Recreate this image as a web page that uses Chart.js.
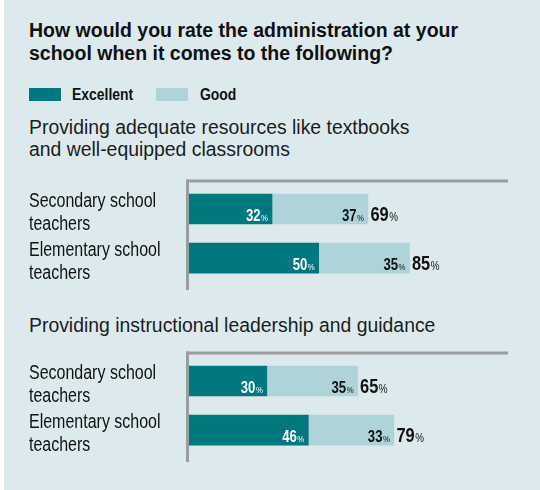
<!DOCTYPE html>
<html>
<head>
<meta charset="utf-8">
<script src="https://cdn.jsdelivr.net/npm/chart.js@4.4.0/dist/chart.umd.min.js"></script>
<style>
  body { margin: 0; width: 540px; height: 490px; position: relative; overflow: hidden; background: #fff;
         font-family: "Liberation Sans", Arial, sans-serif; color: #111; }
  .bg { position: absolute; left: 4px; top: 0; width: 536px; height: 490px; background: #dceaed; }
  .title { position: absolute; left: 29px; top: 19px; font-weight: 700; font-size: 19.5px; line-height: 23px; white-space: nowrap; }
  .legend { position: absolute; top: 87px; left: 0; height: 16px; }
  .swatch { position: absolute; top: 1px; width: 32px; height: 13px; }
  .legtext { position: absolute; top: 0; font-weight: 700; font-size: 17px; line-height: 16px; white-space: nowrap;
             transform: scaleX(0.82); transform-origin: 0 0; }
  .heading { position: absolute; left: 29px; font-size: 19.4px; line-height: 22px; color: #1c1c1c; white-space: nowrap; }
  canvas { position: absolute; left: 0; }
</style>
</head>
<body>
<div class="bg"></div>
<div class="title">How would you rate the administration at your<br>school when it comes to the following?</div>
<div class="legend" id="legend"></div>
<div class="heading" style="top:116px">Providing adequate resources like textbooks<br>and well-equipped classrooms</div>
<canvas id="resources" width="540" height="140" style="top:160px"></canvas>
<div class="heading" style="top:314px">Providing instructional leadership and guidance</div>
<canvas id="leadership" width="540" height="140" style="top:332px"></canvas>
<script>
// Daten
const categories = [["Secondary school", "teachers"], ["Elementary school", "teachers"]];
const seriesNames = ["Excellent", "Good"];
const seriesColors = ["#00787f", "#aed3d8"];
const resourcesExcellent = [32, 50];
const resourcesGood = [37, 35];
const leadershipExcellent = [30, 46];
const leadershipGood = [35, 33];
const axisMax = 123;
const rowMin = -0.54, rowMax = 1.65;

const FONT = "'Liberation Sans', Arial, sans-serif";
const SQUEEZE = 0.82; // kein Narrow-Font da, also schmal ziehen

// Legende
function renderLegend() {
    const legend = document.getElementById("legend");
    const swatchX = [29, 156];
    const textX = [72, 200];
    seriesNames.forEach((name, i) => {
        const sw = document.createElement("div");
        sw.className = "swatch";
        sw.style.left = swatchX[i] + "px";
        sw.style.background = seriesColors[i];
        legend.appendChild(sw);
        const t = document.createElement("div");
        t.className = "legtext";
        t.style.left = textX[i] + "px";
        t.textContent = name;
        legend.appendChild(t);
    });
}

// schmaler Text auf dem Canvas, gibt Breite zurück
function narrowText(ctx, text, x, y, font, align, color) {
    ctx.font = font;
    const w = ctx.measureText(text).width * SQUEEZE;
    const left = align === "right" ? x - w : x;
    ctx.save();
    ctx.fillStyle = color;
    ctx.textAlign = "left";
    ctx.textBaseline = "alphabetic";
    ctx.translate(left, y);
    ctx.scale(SQUEEZE, 1);
    ctx.fillText(text, 0, 0);
    ctx.restore();
    return w;
}

// graue Achsenlinien oben und links
const framePlugin = {
    id: "frame",
    beforeDatasetsDraw(chart) {
        const { ctx, chartArea: a } = chart;
        ctx.save();
        ctx.fillStyle = "#9a9c9e";
        ctx.fillRect(a.left - 3, a.top - 3, 3, a.bottom - a.top + 3);
        ctx.fillRect(a.left - 3, a.top - 3, a.right - a.left + 3, 3);
        ctx.restore();
    }
};

// Kategorien links, Werte in den Balken, Summe dahinter
const labelPlugin = {
    id: "barLabels",
    afterDatasetsDraw(chart) {
        const ctx = chart.ctx;
        const sets = chart.data.datasets;
        const yScale = chart.scales.y;

        categories.forEach((lines, i) => {
            const yp = yScale.getPixelForValue(i);
            lines.forEach((line, k) => {
                narrowText(ctx, line, 29, yp - 2 + k * 23, "19.5px " + FONT, "left", "#111");
            });
        });

        sets.forEach((ds, di) => {
            chart.getDatasetMeta(di).data.forEach((bar, i) => {
                const y = bar.y + 12;
                const col = di === 0 ? "#fff" : "#111";
                const pw = narrowText(ctx, "%", bar.x - 4, y, "9.5px " + FONT, "right", col);
                narrowText(ctx, String(ds.data[i].x), bar.x - 4 - pw - 0.5, y, "bold 16px " + FONT, "right", col);

                if (di === sets.length - 1) {
                    const total = sets.reduce((s, d) => s + d.data[i].x, 0);
                    const tw = narrowText(ctx, String(total), bar.x + 2.5, y, "bold 20px " + FONT, "left", "#111");
                    narrowText(ctx, "%", bar.x + 2.5 + tw + 0.5, y, "12px " + FONT, "left", "#111");
                }
            });
        });
    }
};

function makeChart(id, excellent, good) {
    const ctx = document.getElementById(id).getContext("2d");
    return new Chart(ctx, {
        type: "bar",
        data: {
            datasets: [excellent, good].map((vals, k) => ({
                label: seriesNames[k],
                data: vals.map((v, i) => ({ x: v, y: i })),
                backgroundColor: seriesColors[k],
                barThickness: 30
            }))
        },
        options: {
            indexAxis: "y",
            responsive: false,
            animation: false,
            layout: { padding: { left: 189, right: 32, top: 22.5, bottom: 10 } },
            plugins: { legend: { display: false }, tooltip: { enabled: false } },
            scales: {
                x: { type: "linear", stacked: true, min: 0, max: axisMax, display: false },
                y: {
                    type: "linear", stacked: true, reverse: true, display: false, offset: false,
                    bounds: "data", min: rowMin, max: rowMax
                }
            }
        },
        plugins: [framePlugin, labelPlugin]
    });
}

renderLegend();
makeChart("resources", resourcesExcellent, resourcesGood);
makeChart("leadership", leadershipExcellent, leadershipGood);
</script>
</body>
</html>
